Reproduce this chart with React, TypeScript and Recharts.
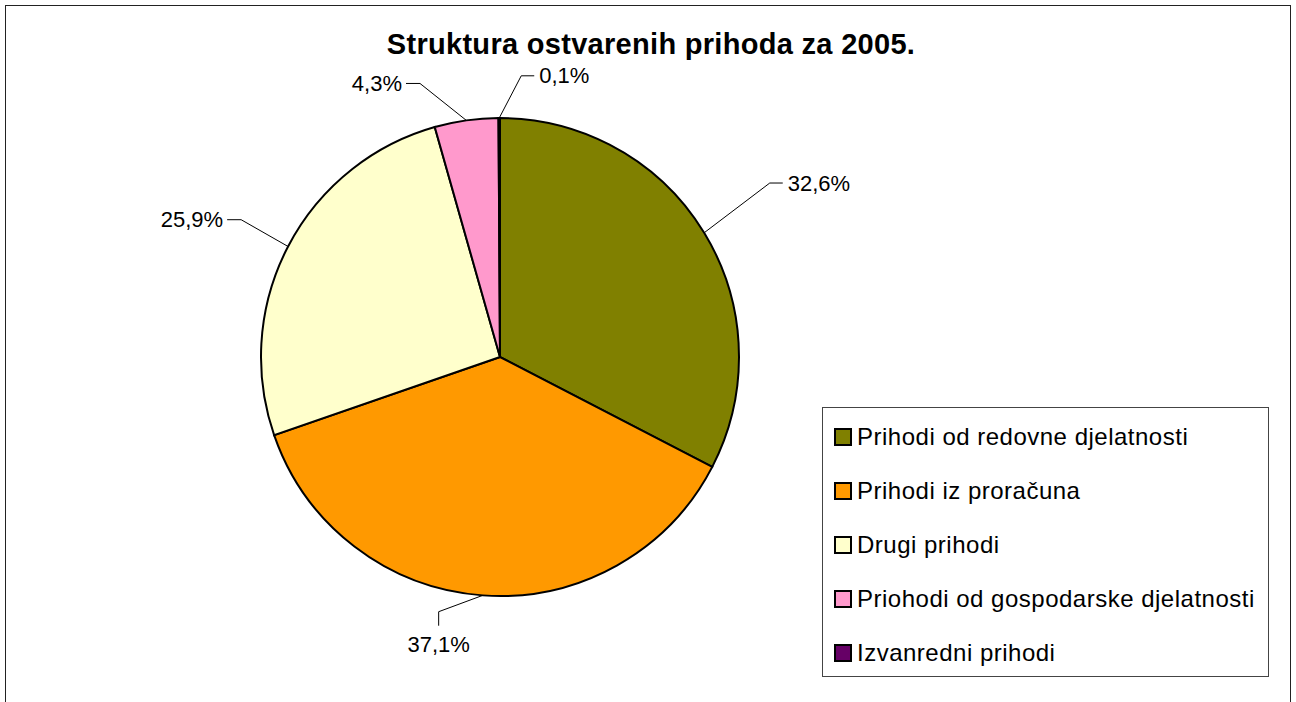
import React from 'react';
import { PieChart, Pie, Cell, Legend } from 'recharts';

const CATEGORIES = [
  'Prihodi od redovne djelatnosti',
  'Prihodi iz proračuna',
  'Drugi prihodi',
  'Priohodi od gospodarske djelatnosti',
  'Izvanredni prihodi',
];
const SHARES = [32.6, 37.1, 25.9, 4.3, 0.1];
const COLORS = ['#808000', '#FF9900', '#FFFFCC', '#FF99CC', '#660066'];

// hand-placed label leaders, like the dragged labels in the original sheet
const LABEL_EXTRA = [82, 23, 54, 46, 43];
const LABEL_SHIFT = [1.5, -9.4, -0.4, 8.2, -4.5];
const LABEL_TAIL = ['right', 'down', 'left', 'left', 'right'];

const FONT = '"Liberation Sans", Arial, sans-serif';
const RAD = Math.PI / 180;

const data = CATEGORIES.map((name, i) => ({ name, value: SHARES[i] }));

const fmt = (v: number) => v.toFixed(1).replace('.', ',') + '%';

const renderLabel = (props: any) => {
  const { cx, cy, midAngle, outerRadius, index, value } = props;
  const sx = cx + outerRadius * Math.cos(-midAngle * RAD);
  const sy = cy + outerRadius * Math.sin(-midAngle * RAD);
  const a = midAngle + LABEL_SHIFT[index];
  const r = outerRadius + LABEL_EXTRA[index];
  const ex = cx + r * Math.cos(-a * RAD);
  const ey = cy + r * Math.sin(-a * RAD);
  const tail = LABEL_TAIL[index];
  let tx = ex;
  let ty = ey;
  let text;
  if (tail === 'right') {
    tx = ex + 13;
    text = (
      <text x={tx + 5} y={ty} textAnchor="start" dominantBaseline="central" fontSize={22} fontFamily={FONT} fill="#000">
        {fmt(value)}
      </text>
    );
  } else if (tail === 'left') {
    tx = ex - 14;
    text = (
      <text x={tx - 4} y={ty} textAnchor="end" dominantBaseline="central" fontSize={22} fontFamily={FONT} fill="#000">
        {fmt(value)}
      </text>
    );
  } else {
    ty = ey + 14;
    text = (
      <text x={tx} y={ty + 26} textAnchor="middle" fontSize={22} fontFamily={FONT} fill="#000">
        {fmt(value)}
      </text>
    );
  }
  return (
    <g key={`lbl-${index}`}>
      <polyline points={`${sx},${sy} ${ex},${ey} ${tx},${ty}`} fill="none" stroke="#000" strokeWidth={1} />
      {text}
    </g>
  );
};

const renderLegend = () => (
  <div
    style={{
      width: 445,
      height: 268,
      border: '1px solid #444',
      background: '#fff',
      boxSizing: 'content-box',
      fontFamily: FONT,
      position: 'relative',
    }}
  >
    {CATEGORIES.map((name, i) => (
      <div
        key={name}
        style={{ position: 'absolute', left: 11, top: 17 + i * 54, height: 24, display: 'flex', alignItems: 'center' }}
      >
        <span
          style={{
            display: 'inline-block',
            width: 14,
            height: 14,
            border: '2px solid #000',
            background: COLORS[i],
            marginRight: 5,
          }}
        />
        <span style={{ fontSize: 24, letterSpacing: 0.5, color: '#000', whiteSpace: 'nowrap' }}>{name}</span>
      </div>
    ))}
  </div>
);

export default function App() {
  return (
    <div style={{ position: 'absolute', left: 0, top: 0, width: 1296, height: 702, background: '#fff', overflow: 'hidden' }}>
      <div
        style={{
          position: 'absolute',
          left: 5,
          top: 5,
          width: 1284,
          height: 720,
          border: '1.5px solid #222',
        }}
      />
      <div
        style={{
          position: 'absolute',
          left: 0,
          width: 1302,
          top: 28,
          textAlign: 'center',
          fontFamily: FONT,
          fontWeight: 'bold',
          fontSize: 29,
          letterSpacing: 0.3,
          color: '#000',
        }}
      >
        Struktura ostvarenih prihoda za 2005.
      </div>
      <div style={{ position: 'absolute', left: 0, top: 0 }}>
        <PieChart width={1296} height={702} margin={{ top: 0, right: 0, bottom: 0, left: 0 }}>
          <Pie
            data={data}
            dataKey="value"
            nameKey="name"
            cx={500}
            cy={357}
            outerRadius={239}
            startAngle={90}
            endAngle={-270}
            label={renderLabel}
            labelLine={false}
            isAnimationActive={false}
          >
            {data.map((d, i) => (
              <Cell key={d.name} fill={COLORS[i]} stroke="#000" strokeWidth={2} />
            ))}
          </Pie>
          <Legend
            content={renderLegend}
            wrapperStyle={{ position: 'absolute', left: 822, top: 407, width: 447, height: 270 }}
          />
        </PieChart>
      </div>
    </div>
  );
}
